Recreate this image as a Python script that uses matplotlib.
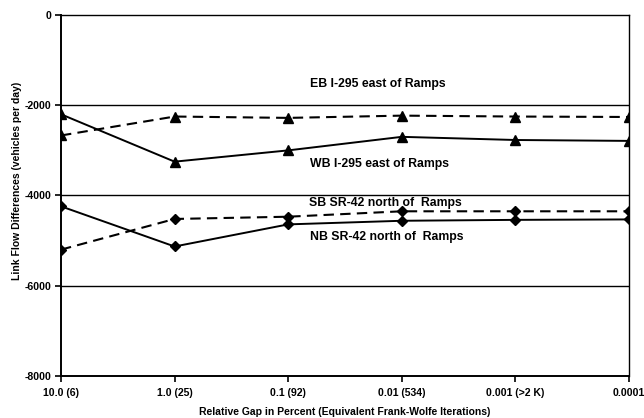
import numpy as np
import matplotlib
matplotlib.use("Agg")
import matplotlib.pyplot as plt

plt.rcParams.update({
    'font.family': ['Liberation Sans', 'DejaVu Sans'],
    'font.weight': 'bold',
    'axes.labelweight': 'bold',
    'font.size': 7.6,
})

# x categories: relative gap (equivalent Frank-Wolfe iterations)
gap_labels = ['10.0 (6)', '1.0 (25)', '0.1 (92)', '0.01 (534)', '0.001 (>2 K)', '0.0001']

# link flow differences (vehicles per day)
eb_i295 = [-2670, -2250, -2280, -2230, -2250, -2260]
wb_i295 = [-2200, -3250, -3000, -2700, -2770, -2790]
sb_sr42 = [-5200, -4520, -4470, -4350, -4350, -4350]
nb_sr42 = [-4240, -5130, -4640, -4560, -4540, -4530]

fig = plt.figure(figsize=(6.44, 4.18), dpi=100)
ax = fig.add_axes([0.0947, 0.1005, 0.882, 0.8636])

x = np.arange(len(gap_labels))

for yv in [-2000, -4000, -6000]:
    ax.axhline(yv, color='black', lw=1.0, zorder=1)

ax.plot(x, eb_i295, color='black', ls=(0, (5, 3)), lw=1.5, marker='^', ms=7, zorder=3)
ax.plot(x, wb_i295, color='black', ls='-', lw=1.4, marker='^', ms=7, zorder=3)
ax.plot(x, sb_sr42, color='black', ls=(0, (5, 3)), lw=1.5, marker='D', ms=5.5, zorder=3)
ax.plot(x, nb_sr42, color='black', ls='-', lw=1.4, marker='D', ms=5.5, zorder=3)

# series labels
ax.text(2.19, -1520, 'EB I-295 east of Ramps', fontsize=8.8, ha='left', va='center')
ax.text(2.19, -3300, 'WB I-295 east of Ramps', fontsize=8.8, ha='left', va='center')
ax.text(2.18, -4170, 'SB SR-42 north of  Ramps', fontsize=8.8, ha='left', va='center')
ax.text(2.19, -4910, 'NB SR-42 north of  Ramps', fontsize=8.8, ha='left', va='center')

ax.set_xlim(0, len(gap_labels) - 1)
ax.set_ylim(-8000, 0)
ax.set_xticks(x)
ax.set_xticklabels(gap_labels)
ax.set_yticks([0, -2000, -4000, -6000, -8000])
ax.set_yticklabels(['0', '-2000', '-4000', '-6000', '-8000'])

for side in ['left', 'right', 'top', 'bottom']:
    ax.spines[side].set_linewidth(1.4 if side in ('left', 'bottom') else 1.0)
    ax.spines[side].set_color('black')

ax.tick_params(axis='both', direction='out', length=4, width=1.2, colors='black')
ax.tick_params(axis='x', pad=5)
ax.tick_params(axis='y', pad=3)

ax.set_xlabel('Relative Gap in Percent (Equivalent Frank-Wolfe Iterations)', fontsize=7.5, labelpad=6)
ax.set_ylabel('Link Flow Differences (vehicles per day)', fontsize=7.5)
ax.yaxis.set_label_coords(-0.069, 0.54)

fig.savefig('out.png', dpi=100)
